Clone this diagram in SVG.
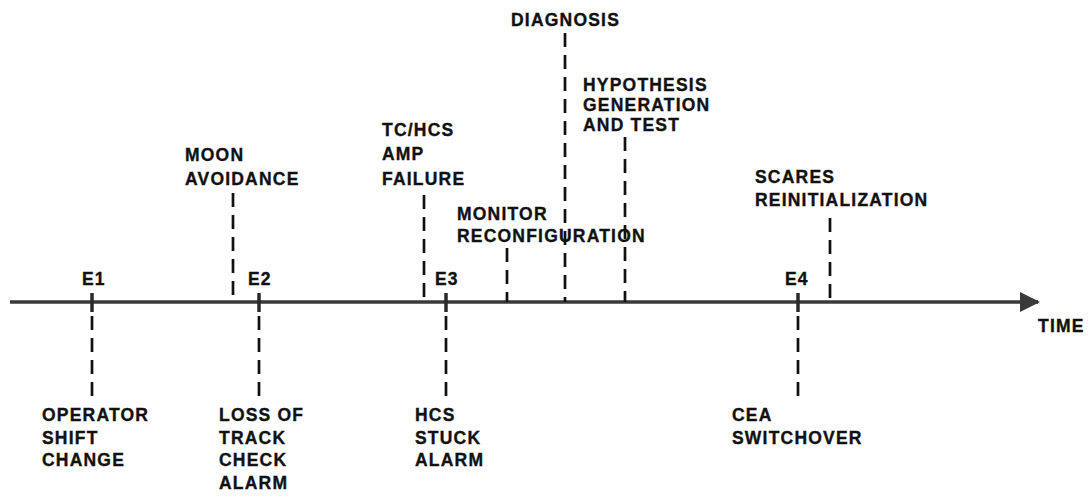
<svg xmlns="http://www.w3.org/2000/svg" width="1088" height="504" viewBox="0 0 1088 504">
  <style>
    .lbl { font-family: "Liberation Sans", Arial, sans-serif; font-weight: bold; font-size: 17.5px; letter-spacing: 1.2px; fill: #111; stroke: #111; stroke-width: 0.35; }
    .dash { stroke: #111; stroke-width: 2.7; stroke-dasharray: 14 8; fill: none; }
    .axis { stroke: #3a3a3a; stroke-width: 3.4; fill: none; }
    .tick { stroke: #2a2a2a; stroke-width: 3.5; }
  </style>
  <defs>
    <marker id="arrow" viewBox="0 0 20 20" refX="18" refY="10" markerWidth="20" markerHeight="20" markerUnits="userSpaceOnUse" orient="auto">
      <polygon points="0,0 20,10 0,20" fill="#3a3a3a"/>
    </marker>
  </defs>
  <rect width="1088" height="504" fill="#fff"/>

  <!-- time axis and dashed event leaders -->
  <g id="connectors">
    <line class="axis" x1="10" y1="302" x2="1038" y2="302" marker-end="url(#arrow)"/>
    <!-- event ticks on the axis -->
    <line class="tick" x1="92" y1="293" x2="92" y2="312"/>
    <line class="tick" x1="259" y1="293" x2="259" y2="312"/>
    <line class="tick" x1="446" y1="293" x2="446" y2="312"/>
    <line class="tick" x1="798" y1="293" x2="798" y2="312"/>
    <!-- leaders below the axis -->
    <line class="dash" x1="92" y1="316" x2="92" y2="398"/>
    <line class="dash" x1="259" y1="316" x2="259" y2="398"/>
    <line class="dash" x1="446" y1="316" x2="446" y2="402"/>
    <line class="dash" x1="798" y1="316" x2="798" y2="402"/>
    <!-- leaders above the axis -->
    <line class="dash" x1="233" y1="193" x2="233" y2="302"/>
    <line class="dash" x1="424" y1="195" x2="424" y2="302"/>
    <line class="dash" x1="507" y1="248" x2="507" y2="302"/>
    <line class="dash" x1="565" y1="33" x2="565" y2="302"/>
    <line class="dash" x1="625" y1="137" x2="625" y2="302"/>
    <line class="dash" x1="830" y1="218" x2="830" y2="302"/>
  </g>

  <g id="e1"><text class="lbl" x="82" y="285">E1</text></g>
  <g id="e2"><text class="lbl" x="248" y="285">E2</text></g>
  <g id="e3"><text class="lbl" x="435" y="285">E3</text></g>
  <g id="e4"><text class="lbl" x="785" y="285">E4</text></g>
  <g id="time"><text class="lbl" x="1038" y="332">TIME</text></g>

  <g id="diagnosis"><text class="lbl" x="511" y="26">DIAGNOSIS</text></g>
  <g id="hypothesis">
    <text class="lbl" x="583" y="91">HYPOTHESIS</text>
    <text class="lbl" x="583" y="111">GENERATION</text>
    <text class="lbl" x="583" y="131">AND TEST</text>
  </g>
  <g id="tc-hcs-amp-failure">
    <text class="lbl" x="382" y="136">TC/HCS</text>
    <text class="lbl" x="382" y="160">AMP</text>
    <text class="lbl" x="382" y="185">FAILURE</text>
  </g>
  <g id="moon-avoidance">
    <text class="lbl" x="185" y="161">MOON</text>
    <text class="lbl" x="185" y="185">AVOIDANCE</text>
  </g>
  <g id="monitor-reconfiguration">
    <text class="lbl" x="457" y="220">MONITOR</text>
    <text class="lbl" x="457" y="242">RECONFIGURATION</text>
  </g>
  <g id="scares-reinitialization">
    <text class="lbl" x="755" y="183">SCARES</text>
    <text class="lbl" x="755" y="206">REINITIALIZATION</text>
  </g>

  <g id="operator-shift-change">
    <text class="lbl" x="42" y="421">OPERATOR</text>
    <text class="lbl" x="42" y="443.5">SHIFT</text>
    <text class="lbl" x="42" y="466">CHANGE</text>
  </g>
  <g id="loss-of-track-check-alarm">
    <text class="lbl" x="219" y="421">LOSS OF</text>
    <text class="lbl" x="219" y="443.5">TRACK</text>
    <text class="lbl" x="219" y="466">CHECK</text>
    <text class="lbl" x="219" y="488.5">ALARM</text>
  </g>
  <g id="hcs-stuck-alarm">
    <text class="lbl" x="415" y="421">HCS</text>
    <text class="lbl" x="415" y="443.5">STUCK</text>
    <text class="lbl" x="415" y="466">ALARM</text>
  </g>
  <g id="cea-switchover">
    <text class="lbl" x="732" y="421">CEA</text>
    <text class="lbl" x="732" y="443.5">SWITCHOVER</text>
  </g>
</svg>
